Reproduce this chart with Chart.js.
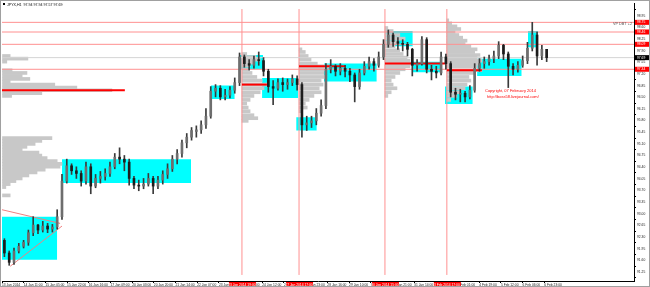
<!DOCTYPE html>
<html>
<head>
<meta charset="utf-8">
<script src="https://cdn.jsdelivr.net/npm/chart.js@4.4.1/dist/chart.umd.min.js"></script>
<style>
  html, body { margin: 0; padding: 0; background: #fff; overflow: hidden; }
  #vpChart { display: block; }
</style>
</head>
<body>
<canvas id="vpChart" width="650" height="287"></canvas>
<script>
// --- candles (4h blocks) ---
const candleOpen = [92.20,91.82,91.54,91.88,92.02,92.14,92.43,92.66,92.51,92.63,92.54,92.60,92.91,93.98,94.44,94.29,94.21,93.98,94.41,93.83,
  94.06,94.12,94.21,94.41,94.70,94.64,94.55,94.06,93.86,93.83,93.89,94.06,93.83,94.01,94.18,94.35,94.64,94.81,95.13,95.30,
  95.47,95.52,95.67,95.93,96.68,96.77,96.51,96.56,96.71,96.94,97.71,97.51,97.46,97.63,97.60,97.28,96.82,96.77,96.94,96.88,
  96.94,97.05,96.88,95.67,95.73,95.79,96.02,96.25,97.34,97.43,97.28,97.37,97.28,97.17,96.82,97.23,97.43,97.57,97.46,97.71,
  98.09,98.37,98.17,98.12,98.09,97.94,97.46,97.51,98.23,97.34,97.28,97.23,97.71,97.51,96.65,96.59,96.62,96.51,96.71,97.37,
  97.51,97.57,97.66,97.74,98.06,97.80,97.43,97.34,97.46,97.60,97.97,98.37,97.74,97.94];
const candleHigh = [92.25,91.88,91.97,92.11,92.20,92.51,92.91,92.68,92.77,92.71,92.68,93.12,94.18,94.64,94.50,94.41,94.29,94.55,94.50,94.18,
  94.27,94.35,94.55,94.81,94.98,94.75,94.64,94.12,94.01,94.06,94.21,94.12,94.12,94.29,94.50,94.75,94.93,95.21,95.41,95.59,
  95.64,95.79,96.16,96.82,96.88,96.85,96.74,96.82,97.08,97.83,97.77,97.63,97.74,97.86,97.69,97.34,97.00,97.05,97.08,97.05,
  97.17,97.14,96.94,95.93,95.93,96.16,96.42,97.51,97.63,97.48,97.51,97.46,97.37,97.23,97.34,97.57,97.71,97.66,97.86,98.23,
  98.52,98.43,98.29,98.23,98.15,97.97,97.63,98.32,98.29,97.46,97.43,97.86,97.80,97.57,96.77,96.74,96.68,96.85,97.51,97.66,
  97.71,97.77,97.89,98.17,98.09,97.86,97.51,97.57,97.74,98.15,98.75,98.46,98.06,97.94];
const candleLow = [91.71,91.45,91.48,91.82,91.97,92.05,92.34,92.40,92.45,92.43,92.45,92.54,92.83,93.92,94.18,94.06,93.83,93.89,93.60,93.78,
  93.92,94.01,94.12,94.35,94.50,94.29,93.86,93.75,93.69,93.75,93.83,93.60,93.75,93.89,94.06,94.27,94.50,94.70,94.98,95.21,
  95.30,95.41,95.56,95.87,96.51,96.42,96.42,96.48,96.62,96.85,97.40,97.31,97.37,97.46,97.14,96.65,96.28,96.71,96.68,96.74,
  96.85,96.71,95.30,95.50,95.59,95.67,95.93,96.16,97.23,97.14,97.17,97.11,96.97,96.36,96.74,97.17,97.34,97.28,97.40,97.63,
  98.00,98.03,97.94,97.89,97.74,97.14,97.28,97.46,97.23,97.02,97.08,97.17,97.34,96.51,96.42,96.36,96.36,96.45,96.65,97.28,
  97.37,97.46,97.54,97.66,97.63,96.79,97.17,97.25,97.40,97.51,97.89,97.46,97.63,97.57];
const candleClose = [91.82,91.54,91.88,92.02,92.14,92.43,92.66,92.51,92.63,92.54,92.60,92.91,93.98,94.44,94.29,94.21,93.98,94.41,93.83,94.06,
  94.12,94.21,94.41,94.70,94.64,94.55,94.06,93.86,93.83,93.89,94.06,93.83,94.01,94.18,94.35,94.64,94.81,95.13,95.30,95.50,
  95.52,95.67,95.93,96.68,96.77,96.51,96.56,96.71,96.94,97.71,97.51,97.46,97.63,97.60,97.28,96.82,96.77,96.94,96.88,96.94,
  97.05,96.88,95.67,95.73,95.79,96.02,96.25,97.34,97.43,97.28,97.37,97.28,97.17,96.82,97.23,97.43,97.57,97.46,97.71,98.09,
  98.37,98.17,98.12,98.09,97.94,97.46,97.51,98.23,97.34,97.28,97.23,97.71,97.51,96.65,96.59,96.62,96.51,96.71,97.37,97.51,
  97.57,97.66,97.74,98.06,97.80,97.43,97.34,97.46,97.60,97.97,98.37,97.74,97.94,97.69];

// --- axes ---
const timeLabels = ['13 Jan 2014','14 Jan 11:00','15 Jan 05:00','15 Jan 22:00','16 Jan 16:00','17 Jan 09:00','20 Jan 03:00',
  '20 Jan 20:00','21 Jan 14:00','22 Jan 07:00','23 Jan 01:00','23 Jan 18:00','24 Jan 12:00','27 Jan 05:00','27 Jan 23:00',
  '28 Jan 16:00','29 Jan 10:00','30 Jan 03:00','30 Jan 21:00','31 Jan 14:00','3 Feb 08:00','4 Feb 01:00','4 Feb 19:00',
  '5 Feb 12:00','6 Feb 06:00','6 Feb 23:00'];
const priceTicks = [91.25,91.60,91.95,92.30,92.65,93.00,93.35,93.70,94.05,94.40,94.75,95.10,95.45,95.80,96.15,96.50,
  96.85,97.20,97.55,97.90,98.25,98.60,98.95];
const TICK_STEP = 4.52;   // candles between two time labels
const X_MAX = 131.7;
const Y_MIN = 91.16, Y_MAX = 99.15;

// --- value areas (cyan) ---
const boxStart = [0, 12.5, 43.5, 49.4, 54.2, 61.3, 67.1, 79.8, 85.6, 92.3, 99.0, 109.6];
const boxEnd   = [11.5, 39.4, 48.5, 54.4, 61.7, 65.6, 78.1, 85.6, 91.7, 98.1, 108.3, 111.7];
const boxLow   = [91.62, 93.92, 96.45, 97.34, 96.48, 95.50, 96.97, 98.03, 97.25, 96.30, 97.14, 98.00];
const boxHigh  = [92.91, 94.64, 96.85, 97.77, 97.08, 95.90, 97.51, 98.49, 97.57, 96.82, 97.66, 98.49];

// --- volume profiles ---
const profileStart = [0, 0, 50.0, 61.9, 79.8, 92.7];
const profilePrices = [
  [97.74,97.66,97.57,97.31,97.23,97.14,97.05,96.97,96.88,96.79,96.71,96.62,96.54],
  [95.27,95.19,95.10,95.01,94.93,94.84,94.75,94.67,94.58,94.50,94.41,94.32,94.24,94.15,94.06,93.98,93.89,93.80,93.55],
  [97.80,97.71,97.63,97.54,97.46,97.34,97.23,97.11,97.00,96.88,96.77,96.65,96.54,96.42,96.31,96.19,96.08,95.96,95.87,95.79],
  [97.94,97.86,97.74,97.63,97.51,97.43,97.34,97.23,97.11,97.00,96.88,96.77,96.65,96.54,96.42,96.31,96.19,96.08],
  [98.58,98.49,98.37,98.26,98.15,98.03,97.91,97.80,97.69,97.60,97.51,97.43,97.34,97.23,97.11,97.00,96.88,96.77,96.65,96.54],
  [98.81,98.72,98.63,98.55,98.46,98.37,98.29,98.20,98.12,98.03,97.94,97.86,97.77,97.69,97.60,97.51,97.43,97.31,97.23,97.11,
   97.00,96.88,96.77,96.65,96.54,96.42]
];
const profileVolume = [
  [1.7,5.4,1.0,2.1,5.2,4.2,5.8,1.7,11.0,15.6,22.9,8.3,2.0],
  [10.4,8.3,6.9,5.2,4.2,7.7,8.3,9.4,11.5,12.5,12.1,9.0,7.3,5.6,4.2,2.9,1.7,0.8,1.7],
  [1.0,2.9,3.8,2.5,1.7,1.3,2.1,3.1,4.2,5.2,4.6,3.8,2.5,1.7,1.0,1.3,1.7,2.5,3.3,1.3],
  [0.6,1.3,1.9,2.5,3.8,6.3,5.8,5.2,5.8,4.6,5.0,4.2,4.6,3.1,2.1,1.3,1.7,0.6],
  [0.6,1.7,3.1,4.2,2.5,2.1,3.1,3.8,4.6,5.2,5.8,5.2,4.2,3.1,2.1,1.3,1.7,2.5,1.3,0.6],
  [0.4,1.0,2.1,2.9,1.7,2.5,3.3,4.2,3.8,5.0,6.3,5.8,6.9,6.3,7.3,6.7,6.3,7.3,5.8,4.6,5.0,4.2,3.8,2.9,2.1,0.8]
];
// points of control
const pocStart = [0, 50.0, 61.9, 79.8, 92.7];
const pocEnd   = [25.6, 55.2, 71.5, 92.3, 100.0];
const pocPrice = [96.71, 96.88, 97.43, 97.51, 97.31];

// --- lines ---
const hLinePrices = [98.75, 98.46, 98.09, 97.34];
const vLinePos = [50.0, 61.9, 79.8, 92.7];
const vLineLabels = ['23 Jan 2014 19:00', '27 Jan 2014 17:00', '30 Jan 2014 15:00', '3 Feb 2014 17:00'];
const trendFrom = [[0, 93.12], [1.7, 91.42]];
const trendTo   = [[12.1, 92.71], [12.5, 92.63]];

const lastPrice = candleClose[candleClose.length - 1];
const FONT = '"Liberation Sans", Arial, sans-serif';

function segment(x0, y0, x1, y1, color, width, order) {
    return {
        type: 'line', order: order,
        data: [{ x: x0, y: y0 }, { x: x1, y: y1 }],
        borderColor: color, borderWidth: width, pointRadius: 0, fill: false
    };
}

const datasets = [];

// candles
datasets.push({
    type: 'bar', order: 0, grouped: false, barThickness: 2, minBarLength: 1,
    data: candleOpen.map((o, i) => ({ x: i + 0.5, y: [o, candleClose[i]] })),
    backgroundColor: candleOpen.map((o, i) => candleClose[i] >= o ? '#6e6e6e' : '#1c1c1c')
});
datasets.push({
    type: 'bar', order: 1, grouped: false, barThickness: 1,
    data: candleHigh.map((h, i) => ({ x: i + 0.5, y: [candleLow[i], h] })),
    backgroundColor: '#3a3a3a'
});

// poc lines
pocPrice.forEach((p, k) => datasets.push(segment(pocStart[k], p, pocEnd[k], p, '#ff0000', 2, 2)));

// horizontal + vertical + trend lines
hLinePrices.forEach(p => datasets.push(segment(0, p, X_MAX, p, '#ff9090', 1, 3)));
datasets.push(segment(0, lastPrice, X_MAX, lastPrice, '#d4d4d4', 1, 3));
vLinePos.forEach(u => datasets.push(segment(u, Y_MIN, u, Y_MAX, '#ff9090', 1, 3)));
trendFrom.forEach((a, k) => datasets.push(segment(a[0], a[1], trendTo[k][0], trendTo[k][1], '#f08080', 1, 3)));

// volume profiles as horizontal bars
const profileRows = [];
profilePrices.forEach((prices, k) => {
    prices.forEach((p, j) => {
        profileRows.push({ y: p, x: [profileStart[k], profileStart[k] + profileVolume[k][j]] });
    });
});
datasets.push({
    type: 'bar', indexAxis: 'y', order: 4, grouped: false, barThickness: 3,
    data: profileRows, backgroundColor: '#c8c8c8'
});

// value area boxes
boxStart.forEach((s, k) => {
    datasets.push({
        type: 'line', order: 5,
        data: [{ x: s, y: boxHigh[k] }, { x: boxEnd[k], y: boxHigh[k] }],
        fill: { value: boxLow[k] },
        backgroundColor: '#00ffff', borderColor: 'rgba(0,0,0,0)', borderWidth: 1, pointRadius: 0
    });
});

const overlayPlugin = {
    id: 'mtOverlay',
    afterDraw(chart) {
        const { ctx, scales } = chart;
        const x = scales.x, y = scales.y;
        ctx.save();
        ctx.textBaseline = 'middle';
        ctx.font = '3.3px ' + FONT;

        // price tags on the right scale
        const tag = (p, bg) => {
            const py = y.getPixelForValue(p);
            ctx.fillStyle = bg;
            ctx.fillRect(y.left + 1, py - 2.5, 15, 5);
            ctx.fillStyle = '#fff';
            ctx.textAlign = 'left';
            ctx.fillText(p.toFixed(2), y.left + 3, py);
        };
        hLinePrices.forEach(p => tag(p, '#ff0000'));
        tag(lastPrice, '#000');

        // time tags of the session lines
        vLinePos.forEach((u, k) => {
            const px = x.getPixelForValue(u);
            ctx.fillStyle = '#ff0000';
            ctx.fillRect(px - 13, x.top + 1, 27, 5);
            ctx.fillStyle = '#fff';
            ctx.textAlign = 'center';
            ctx.fillText(vLineLabels[k], px, x.top + 3.6);
        });

        // symbol header
        const n = candleClose.length - 1;
        ctx.fillStyle = '#000';
        ctx.textAlign = 'left';
        ctx.font = '3.6px ' + FONT;
        ctx.fillRect(3, 3, 2, 2);
        ctx.fillText('JPYX,H1  ' + [candleOpen[n], candleHigh[n], candleLow[n], candleClose[n]].map(v => v.toFixed(2)).join(' '), 7, 4.5);

        // indicator caption
        ctx.fillStyle = '#555';
        ctx.textAlign = 'right';
        ctx.font = '3.8px ' + FONT;
        ctx.fillText('VP DBT +2', x.right - 2, 23.5);

        // copyright
        ctx.fillStyle = '#ff0000';
        ctx.textAlign = 'left';
        ctx.font = '4px ' + FONT;
        ctx.fillText('Copyright, 07 February 2014', 485, 91);
        ctx.fillText('http://boss58.livejournal.com/', 487, 96.5);

        // window frame
        ctx.strokeStyle = '#a0a0a0';
        ctx.lineWidth = 1;
        ctx.strokeRect(0.5, 0.5, 649, 286);
        ctx.restore();
    }
};

new Chart(document.getElementById('vpChart').getContext('2d'), {
    type: 'bar',
    data: { datasets: datasets },
    options: {
        responsive: false,
        animation: false,
        events: [],
        layout: { padding: { left: 2, top: 3, right: 0, bottom: 0 } },
        plugins: { legend: { display: false }, tooltip: { enabled: false } },
        scales: {
            x: {
                type: 'linear', min: 0, max: X_MAX, offset: false,
                grid: { drawOnChartArea: false, drawTicks: true, tickLength: 2, color: '#000', offset: false },
                border: { display: true, color: '#000', width: 1 },
                afterBuildTicks: s => { s.ticks = timeLabels.map((_, k) => ({ value: k * TICK_STEP })); },
                afterFit: s => { s.height = 6; },
                ticks: {
                    autoSkip: false, maxRotation: 0, minRotation: 0, align: 'start', padding: 0,
                    color: '#222', font: { family: FONT, size: 3.3 },
                    callback: (v, i) => timeLabels[i]
                }
            },
            y: {
                type: 'linear', position: 'right', min: Y_MIN, max: Y_MAX,
                grid: { drawOnChartArea: false, drawTicks: true, tickLength: 2, color: '#000' },
                border: { display: true, color: '#000', width: 1 },
                afterBuildTicks: s => { s.ticks = priceTicks.map(v => ({ value: v })); },
                afterFit: s => { s.width = 16; },
                ticks: {
                    padding: 1, color: '#222', font: { family: FONT, size: 3.3 },
                    callback: v => v.toFixed(2)
                }
            }
        }
    },
    plugins: [overlayPlugin]
});
</script>
</body>
</html>
